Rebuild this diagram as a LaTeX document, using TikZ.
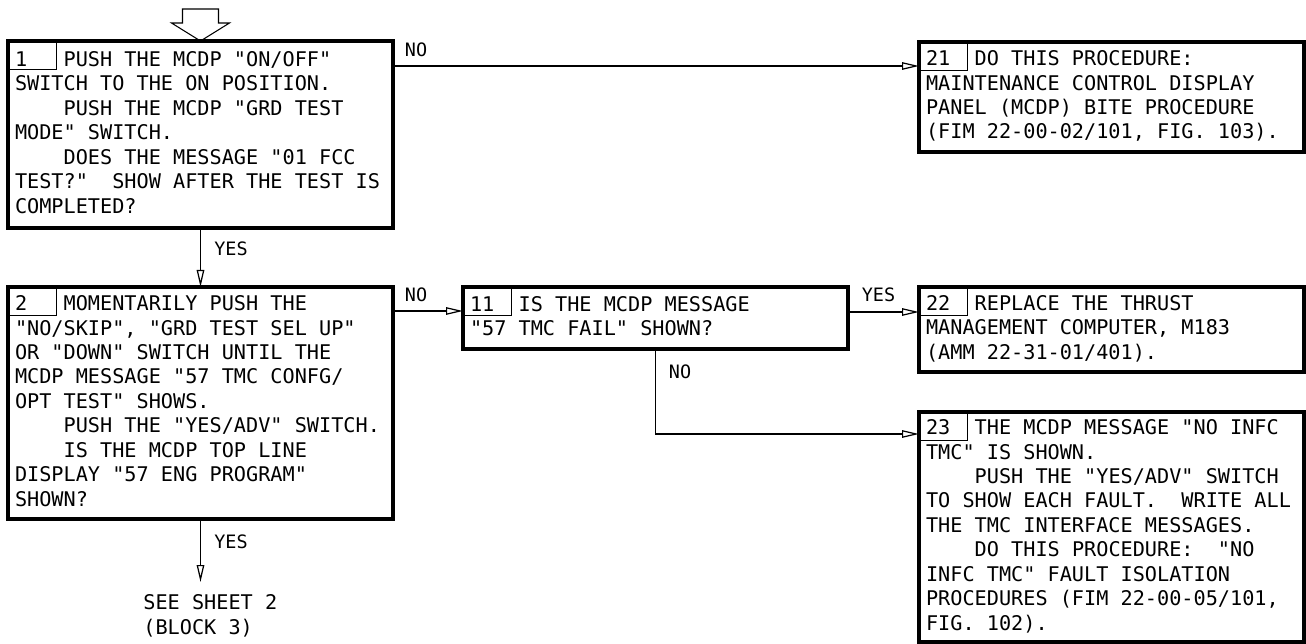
\documentclass[tikz,border=0pt]{standalone}
\usepackage{fontspec}
\usepackage{tikz}
\usetikzlibrary{arrows.meta, positioning}
\newfontfamily\fimfont{DejaVu Sans Mono}
\newcommand{\blocknum}[1]{\leavevmode\rlap{#1}\phantom{0000}}
\newcommand{\ind}{\leavevmode\phantom{0000}}

\begin{document}
\begin{tikzpicture}[
  every node/.style={inner sep=0pt},
  block/.style={draw, line width=1.9pt, outer sep=0pt, anchor=north west,
                minimum width=7.7cm, text width=7.42cm, inner xsep=0.14cm,
                align=left, font=\fimfont\fontsize{11.5}{13.9}\selectfont,
                execute at begin node={\spaceskip=0pt\xspaceskip=0pt\relax},
                execute at end node={\rule[-2.5pt]{0pt}{0pt}}},
  numtab/.style={draw, line width=0.5pt},
  flow/.style={-{Triangle[open, length=3.4mm, width=1.5mm]}, line width=0.7pt},
  entry/.style={draw, line width=0.6pt},
  answer/.style={font=\fimfont\fontsize{10.5}{12}\selectfont},
  sheetnote/.style={anchor=north west, inner ysep=0.25cm, align=left,
                    font=\fimfont\fontsize{11.5}{13.9}\selectfont},
]
\useasboundingbox (0,0) rectangle (26.12,-12.88);

% --- Left column: blocks 1 and 2 ------------------------------------
\node[block, minimum height=3.74cm] (b1) at (0.16,-0.82)
  {\blocknum{1}PUSH THE MCDP "ON/OFF"\\
   SWITCH TO THE ON POSITION.\\
   \ind PUSH THE MCDP "GRD TEST\\
   MODE" SWITCH.\\
   \ind DOES THE MESSAGE "01 FCC\\
   TEST?"\ \ SHOW AFTER THE TEST IS\\
   COMPLETED?};
\node[block, minimum height=4.64cm] (b2) at (0.16,-5.74)
  {\blocknum{2}MOMENTARILY PUSH THE\\
   "NO/SKIP", "GRD TEST SEL UP"\\
   OR "DOWN" SWITCH UNTIL THE\\
   MCDP MESSAGE "57 TMC CONFG/\\
   OPT TEST" SHOWS.\\
   \ind PUSH THE "YES/ADV" SWITCH.\\
   \ind IS THE MCDP TOP LINE\\
   DISPLAY "57 ENG PROGRAM"\\
   SHOWN?};

% --- Middle column: block 11 -----------------------------------------
\node[block, minimum height=1.24cm] (b11) at (9.26,-5.74)
  {\blocknum{11}IS THE MCDP MESSAGE\\
   "57 TMC FAIL" SHOWN?};

% --- Right column: blocks 21, 22 and 23 ------------------------------
\node[block, minimum height=2.2cm] (b21) at (18.38,-0.84)
  {\blocknum{21}DO THIS PROCEDURE:\\
   MAINTENANCE CONTROL DISPLAY\\
   PANEL (MCDP) BITE PROCEDURE\\
   (FIM 22-00-02/101, FIG. 103).};
\node[block, minimum height=1.7cm] (b22) at (18.38,-5.74)
  {\blocknum{22}REPLACE THE THRUST\\
   MANAGEMENT COMPUTER, M183\\
   (AMM 22-31-01/401).};
\node[block, minimum height=4.6cm] (b23) at (18.38,-8.24)
  {\blocknum{23}THE MCDP MESSAGE "NO INFC\\
   TMC" IS SHOWN.\\
   \ind PUSH THE "YES/ADV" SWITCH\\
   TO SHOW EACH FAULT.\ \ WRITE ALL\\
   THE TMC INTERFACE MESSAGES.\\
   \ind DO THIS PROCEDURE:\ \ "NO\\
   INFC TMC" FAULT ISOLATION\\
   PROCEDURES (FIM 22-00-05/101,\\
   FIG. 102).};

% Block number tabs in the top left corners.
\foreach \b in {b1, b2, b11, b21, b22, b23}
  \draw[numtab] (\b.north west) rectangle ++(0.96,-0.56);

% --- Sheet reference below block 2 -----------------------------------
\node[sheetnote] (sheet) at (2.86,-11.64) {SEE SHEET 2\\(BLOCK 3)};

% Entry points on the receiving blocks.
\coordinate (in21) at ([yshift=-0.48cm]b21.north west);
\coordinate (in11) at ([yshift=-0.48cm]b11.north west);
\coordinate (in22) at ([yshift=-0.50cm]b22.north west);
\coordinate (in23) at ([yshift=-0.44cm]b23.north west);

% --- Connectors ------------------------------------------------------
\draw[entry] (b1.north) -- ++(0.58,0.36) -- ++(-0.22,0) -- ++(0,0.28)
  -- ++(-0.72,0) -- ++(0,-0.28) -- ++(-0.22,0) -- cycle;
\draw[flow] (b1.east |- in21) -- (in21);
\draw[flow] (b1.south) -- (b2.north);
\draw[flow] (b2.east |- in11) -- (in11);
\draw[flow] (b11.east |- in22) -- (in22);
\draw[flow] (b11.south) |- (in23);
\draw[flow] (b2.south) -- (b2.south |- sheet.north);

% --- Answer labels ---------------------------------------------------
\node[answer] (no1)  at (8.32,-1.00)  {NO};
\node[answer] (yes1) at (4.62,-4.97)  {YES};
\node[answer] (no2)  at (8.32,-5.90)  {NO};
\node[answer] (yes2) at (17.57,-5.90) {YES};
\node[answer] (no3)  at (13.60,-7.44) {NO};
\node[answer] (yes3) at (4.62,-10.84) {YES};
\end{tikzpicture}
\end{document}
